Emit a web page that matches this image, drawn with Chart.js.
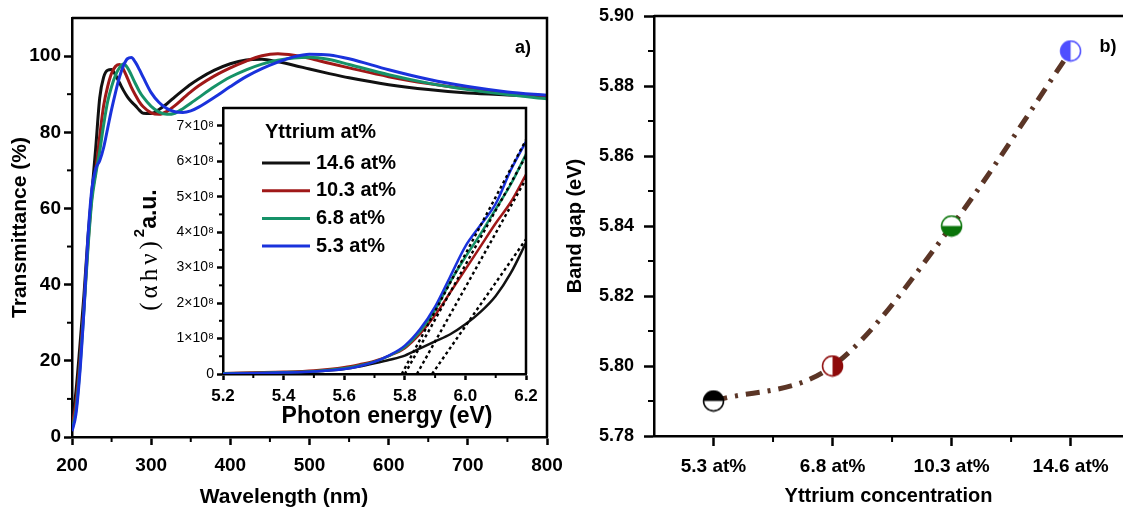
<!DOCTYPE html>
<html>
<head>
<meta charset="utf-8">
<script src="https://cdn.jsdelivr.net/npm/chart.js@4.4.0/dist/chart.umd.min.js"></script>
<style>
  body { margin: 0; background: #fff; overflow: hidden; }
  #wrap { position: relative; width: 1123px; height: 508px; }
  canvas { position: absolute; }
</style>
</head>
<body>
<div id="wrap">
  <canvas id="trans" width="580" height="508" style="left:0;top:0"></canvas>
  <canvas id="gap" width="563" height="508" style="left:560px;top:0"></canvas>
  <canvas id="tauc" width="410" height="330" style="left:130px;top:100px"></canvas>
</div>
<script>
const FONT = "'Liberation Sans', Arial, sans-serif"
Chart.defaults.font.family = FONT
Chart.defaults.color = '#000'

// transmittance spectra (%) vs wavelength (nm)
const wavelength = [200,205,210,215,220,225,230,235,240,245,250,255,260,265,270,275,280,285,290,300,310,320,330,340,350,360,380,400,420,440,460,480,500,525,550,600,650,700,750,800]
const trans146 = [4,12,24,37,52,64,76,89,94.5,96.3,96.5,95,93,91,89.3,88,87,85.8,85,84.9,86,87.5,89.3,91,92.6,94,96.3,98,99,99.2,98.5,97.6,96.6,95.4,94.3,92.5,91.2,90.3,89.8,89.4]
const trans103 = [3,9,20,34,50,63,70,79,87,92,95.5,97.3,97.8,96.5,94.2,91.8,89.8,88,86.7,85.1,84.7,85.5,87,88.8,90.6,92.2,94.8,96.9,98.7,100.1,100.6,100.2,99.4,98.1,96.9,94.6,92.8,91.4,90.3,89.5]
const trans68 = [2,7,18,33,49,62,69,75,82,88,92,95,97,97.9,97,95,92.8,90.8,89.2,86.8,85.3,84.7,85,86.2,87.6,89.1,92,94.5,96.4,97.9,98.9,99.5,99.7,99.1,97.8,95.1,92.9,91.2,89.9,88.8]
const trans53 = [1.5,6,17,33,52,65,70.5,72.5,76,81,86,90.5,94.5,97.5,99.3,99.6,98.4,96.5,94.4,90.4,87.8,86.2,85.4,85.2,85.6,86.6,89.2,92,94.6,96.7,98.4,99.8,100.5,100.3,99.3,96.4,93.9,92,90.6,89.7]
const wlTicks = [200,300,400,500,600,700,800]
const wlMinor = [250,350,450,550,650,750]
const transTicks = [0,20,40,60,80,100]
const transMinor = [10,30,50,70,90]

const seriesNames = ['14.6 at%', '10.3 at%', '6.8 at%', '5.3 at%']
const seriesColors = ['#111111', '#a01818', '#169268', '#1a32dc']

// Tauc plot, (alpha h nu)^2 in units of 1e8 vs photon energy (eV)
const energy = [5.2,5.3,5.4,5.5,5.6,5.65,5.7,5.75,5.8,5.85,5.9,5.95,6.0,6.05,6.1,6.15,6.2]
const tauc146 = [0.02,0.03,0.04,0.07,0.14,0.21,0.3,0.4,0.52,0.72,0.92,1.12,1.4,1.75,2.2,2.85,3.7]
const tauc103 = [0.02,0.04,0.06,0.1,0.19,0.27,0.37,0.52,0.73,1.13,1.66,2.3,2.95,3.6,4.25,4.85,5.62]
const tauc68 = [0.02,0.03,0.05,0.08,0.16,0.24,0.35,0.52,0.76,1.2,1.8,2.6,3.3,3.95,4.65,5.35,6.2]
const tauc53 = [0.01,0.02,0.04,0.07,0.14,0.22,0.34,0.53,0.8,1.26,1.9,2.75,3.6,4.2,4.8,5.75,6.55]
const tangentEnd = [3.8, 5.5, 6.15, 6.6]   // linear fit value at 6.2 eV, same order as seriesNames
const energyTicks = [5.2,5.4,5.6,5.8,6.0,6.2]
const energyMinor = [5.3,5.5,5.7,5.9,6.1]
const taucTicks = [0,1,2,3,4,5,6,7]
const taucTickLabels = ['0','1×10⁸','2×10⁸','3×10⁸','4×10⁸','5×10⁸','6×10⁸','7×10⁸']
const taucMinor = [0.5,1.5,2.5,3.5,4.5,5.5,6.5]

// band gap vs yttrium content
const concLabels = ['5.3 at%', '6.8 at%', '10.3 at%', '14.6 at%']
const bandGap = [5.79, 5.80, 5.84, 5.89]
const gapTicks = [5.78,5.80,5.82,5.84,5.86,5.88,5.90]
const gapMinor = [5.79,5.81,5.83,5.85,5.87,5.89]
const markerColors = ['#000000', '#8e0b0b', '#0b750b', '#4f4fff']
const markerHalf = ['top', 'right', 'bottom', 'left']

// ---- plugins ----
const frame = {
  id: 'frame',
  afterDraw(chart, args, o) {
    const {ctx, chartArea: a} = chart
    ctx.save()
    ctx.strokeStyle = '#000'
    ctx.lineWidth = 2.5
    ctx.beginPath()
    ctx.moveTo(a.left, a.top)
    ctx.lineTo(a.right, a.top)
    if (o.right) ctx.lineTo(a.right, a.bottom)
    ctx.stroke()
    ctx.restore()
  }
}

const whiteBox = {
  id: 'whiteBox',
  beforeDraw(chart) {
    const {ctx, chartArea: a} = chart
    ctx.save()
    ctx.fillStyle = '#fff'
    ctx.fillRect(a.left, a.top, a.right - a.left, a.bottom - a.top)
    ctx.restore()
  }
}

const minorTicks = {
  id: 'minorTicks',
  afterDraw(chart, args, o) {
    const ctx = chart.ctx
    ctx.save()
    ctx.strokeStyle = '#000'
    ctx.lineWidth = 2
    Object.keys(o.values).forEach(id => {
      const s = chart.scales[id]
      o.values[id].forEach(v => {
        const p = s.getPixelForValue(v)
        ctx.beginPath()
        if (s.isHorizontal()) { ctx.moveTo(p, s.top); ctx.lineTo(p, s.top + o.length) }
        else { ctx.moveTo(s.right, p); ctx.lineTo(s.right - o.length, p) }
        ctx.stroke()
      })
    })
    ctx.restore()
  }
}

// free-standing text: panel letters and x titles that sit off centre
const texts = {
  id: 'texts',
  afterDraw(chart, args, o) {
    const ctx = chart.ctx
    ctx.save()
    ctx.textAlign = 'center'
    ctx.textBaseline = 'middle'
    ctx.fillStyle = '#000'
    o.items.forEach(t => {
      ctx.font = 'bold ' + t.size + 'px ' + FONT
      ctx.fillText(t.text, t.x, t.y)
    })
    ctx.restore()
  }
}

const insetLegend = {
  id: 'insetLegend',
  afterDraw(chart, args, o) {
    const {ctx, chartArea: a} = chart
    ctx.save()
    ctx.fillStyle = '#000'
    ctx.textBaseline = 'middle'
    ctx.font = 'bold 20px ' + FONT
    ctx.fillText(o.title, a.left + 42, a.top + 24)
    seriesNames.forEach((n, i) => {
      const y = a.top + 55 + i * 27.7
      ctx.strokeStyle = seriesColors[i]
      ctx.lineWidth = 3
      ctx.beginPath()
      ctx.moveTo(a.left + 39, y)
      ctx.lineTo(a.left + 87, y)
      ctx.stroke()
      ctx.fillText(n, a.left + 93, y)
    })
    ctx.restore()
  }
}

// y title of the Tauc inset: greek part in serif, superscript 2, then a.u.
const taucTitle = {
  id: 'taucTitle',
  afterDraw(chart) {
    const {ctx, chartArea: a} = chart
    const parts = [
      ['(αhν)', 'normal 25px "Liberation Serif", serif', 0, '4px'],
      ['2', 'bold 15px ' + FONT, -10, '0px'],
      ['a.u.', 'bold 23px ' + FONT, 0, '0px']
    ]
    ctx.save()
    ctx.translate(20, (a.top + a.bottom) / 2 + 9)
    ctx.rotate(-Math.PI / 2)
    let w = 0
    parts.forEach(p => { ctx.font = p[1]; ctx.letterSpacing = p[3]; w += ctx.measureText(p[0]).width })
    let x = -w / 2
    ctx.textBaseline = 'middle'
    ctx.fillStyle = '#000'
    parts.forEach(p => {
      ctx.font = p[1]
      ctx.letterSpacing = p[3]
      ctx.fillText(p[0], x, p[2])
      x += ctx.measureText(p[0]).width
    })
    ctx.restore()
  }
}

function axis(o) {
  return {
    type: 'linear', min: o.min, max: o.max,
    afterBuildTicks: s => { s.ticks = o.ticks.map(v => ({value: v})) },
    afterFit: s => {
      if (s.isHorizontal()) s.height = o.size; else s.width = o.size
      s.paddingLeft = s.paddingRight = s.paddingTop = s.paddingBottom = 0
    },
    ticks: {
      autoSkip: false, maxRotation: 0, padding: o.pad,
      font: {size: o.font, weight: o.weight || 'bold'},
      callback: o.label || (v => v)
    },
    grid: {drawOnChartArea: false, tickLength: o.tick, tickWidth: 2.5, tickColor: '#000'},
    border: {color: '#000', width: 2.5},
    title: {
      display: !!o.title, text: o.title,
      font: {size: o.titleSize || 20, weight: 'bold'},
      padding: o.titlePad || 0
    }
  }
}

const quiet = {legend: {display: false}, tooltip: {enabled: false}}

// ---- a) transmittance ----
const transSeries = [trans146, trans103, trans68, trans53]
new Chart(document.getElementById('trans'), {
  type: 'line',
  data: {
    datasets: transSeries.map((s, i) => ({
      label: seriesNames[i],
      data: wavelength.map((w, k) => ({x: w, y: s[k]})),
      borderColor: seriesColors[i], borderWidth: 3, pointRadius: 0,
      cubicInterpolationMode: 'monotone', order: 3 - i
    }))
  },
  options: {
    responsive: false, animation: false,
    layout: {padding: {top: 18, right: 33, left: 0, bottom: 0}, autoPadding: false},
    plugins: {
      ...quiet,
      frame: {right: true},
      minorTicks: {values: {x: wlMinor, y: transMinor}, length: 5},
      texts: {items: [
        {text: 'a)', x: 523, y: 48, size: 18},
        {text: 'Wavelength (nm)', x: 284, y: 497, size: 21}
      ]}
    },
    scales: {
      x: axis({min: 200, max: 800, ticks: wlTicks, size: 71, tick: 8, pad: 9, font: 19}),
      y: axis({min: 0, max: 110, ticks: transTicks, size: 72, tick: 8, pad: 3, font: 19,
        title: 'Transmittance (%)', titleSize: 21, titlePad: {top: 8}})
    }
  },
  plugins: [frame, minorTicks, texts]
})

// ---- inset: Tauc plot ----
const taucSeries = [tauc146, tauc103, tauc68, tauc53]
const taucSets = taucSeries.map((s, i) => ({
  label: seriesNames[i],
  data: energy.map((e, k) => ({x: e, y: s[k]})),
  borderColor: seriesColors[i], borderWidth: 2.5, pointRadius: 0,
  cubicInterpolationMode: 'monotone', order: 4 - i
}))
const tangentSets = seriesNames.map((n, i) => ({
  label: 'fit ' + n,
  data: [{x: bandGap[concLabels.indexOf(n)], y: 0}, {x: 6.2, y: tangentEnd[i]}],
  borderColor: '#000', borderWidth: 2.4, borderDash: [3, 3], pointRadius: 0, order: 0
}))
new Chart(document.getElementById('tauc'), {
  type: 'line',
  data: {datasets: taucSets.concat(tangentSets)},
  options: {
    responsive: false, animation: false,
    layout: {padding: {top: 8, right: 14, left: 0, bottom: 0}, autoPadding: false},
    plugins: {
      ...quiet,
      frame: {right: true},
      minorTicks: {values: {x: energyMinor, y: taucMinor}, length: 4},
      insetLegend: {title: 'Yttrium at%'},
      texts: {items: [{text: 'Photon energy (eV)', x: 257, y: 317, size: 23}]}
    },
    scales: {
      x: axis({min: 5.2, max: 6.2, ticks: energyTicks, size: 56, tick: 6, pad: 6, font: 17,
        label: v => v.toFixed(1)}),
      y: axis({min: 0, max: 7.5, ticks: taucTicks, size: 93, tick: 6, pad: 3, font: 14, weight: 'normal',
        label: (v, i) => taucTickLabels[i]})
    }
  },
  plugins: [whiteBox, frame, minorTicks, insetLegend, taucTitle, texts]
})

// ---- b) band gap ----
function halfMarker(color, half) {
  const c = document.createElement('canvas')
  c.width = c.height = 23
  const g = c.getContext('2d')
  const r = 10, m = 11.5
  g.fillStyle = '#fff'
  g.beginPath(); g.arc(m, m, r, 0, Math.PI * 2); g.fill()
  const start = {top: Math.PI, right: -Math.PI / 2, bottom: 0, left: Math.PI / 2}[half]
  g.fillStyle = color
  g.beginPath(); g.moveTo(m, m); g.arc(m, m, r, start, start + Math.PI); g.closePath(); g.fill()
  g.strokeStyle = color
  g.lineWidth = 1.5
  g.beginPath(); g.arc(m, m, r, 0, Math.PI * 2); g.stroke()
  return c
}

new Chart(document.getElementById('gap'), {
  type: 'line',
  data: {
    datasets: [{
      label: 'Band gap',
      data: bandGap.map((v, i) => ({x: i + 1, y: v})),
      borderColor: '#5b3526', borderWidth: 5, borderDash: [14, 8, 3, 8],
      cubicInterpolationMode: 'monotone',
      pointStyle: markerColors.map((c, i) => halfMarker(c, markerHalf[i])),
      pointRadius: 10
    }]
  },
  options: {
    responsive: false, animation: false,
    layout: {padding: {top: 16, right: 0, left: 0, bottom: 0}, autoPadding: false},
    plugins: {
      ...quiet,
      frame: {right: false},
      minorTicks: {values: {x: [1.5, 2.5, 3.5], y: gapMinor}, length: 6},
      texts: {items: [{text: 'b)', x: 548, y: 47, size: 18}]}
    },
    scales: {
      x: axis({min: 0.5, max: 4.44, ticks: [1, 2, 3, 4], size: 72, tick: 10, pad: 9, font: 19,
        label: v => concLabels[v - 1], title: 'Yttrium concentration', titlePad: {bottom: 0}}),
      y: axis({min: 5.78, max: 5.90, ticks: gapTicks, size: 94, tick: 10, pad: 10, font: 18,
        label: v => v.toFixed(2), title: 'Band gap (eV)', titlePad: {top: 3}})
    }
  },
  plugins: [frame, minorTicks, texts]
})
</script>
</body>
</html>
